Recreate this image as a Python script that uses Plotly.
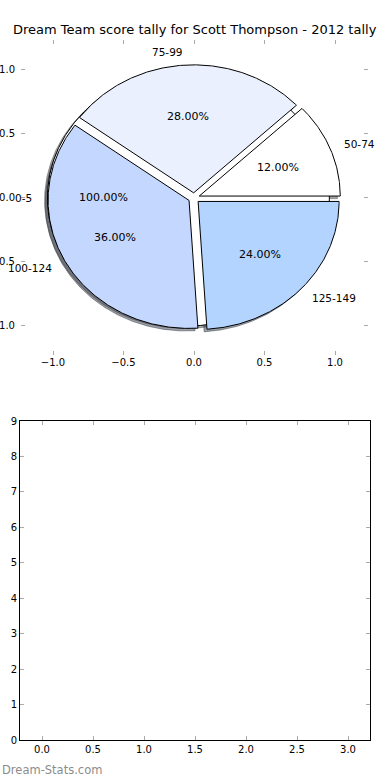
import numpy as np
import plotly.graph_objects as go

# ---------------- data ----------------
title_text = "Dream Team score tally for Scott Thompson - 2012 tally"
first_labels = ["0-5"]
first_counts = [1]
labels = ["50-74", "75-99", "100-124", "125-149"]
counts = [3, 7, 9, 6]
colors = ["#FFFFFF", "#EAF0FE", "#C4D7FE", "#B3D4FE"]
pie_ticks = [-1.0, -0.5, 0.0, 0.5, 1.0]
bar_xticks = [0.0, 0.5, 1.0, 1.5, 2.0, 2.5, 3.0]
bar_yticks = [0, 1, 2, 3, 4, 5, 6, 7, 8, 9]
watermark = "Dream-Stats.com"

# ---------------- style ----------------
FONT = "DejaVu Sans"
EXPLODE = 0.04
SHADOW = (-0.02, -0.02)
W, H = 390, 780


def wedges(vals):
    v = np.asarray(vals, dtype=float)
    s = v.sum()
    if s > 1:
        v = v / s
    out = []
    t1 = 0.0
    for f in v:
        t2 = t1 + 360.0 * f
        mid = np.deg2rad((t1 + t2) / 2)
        cx, cy = EXPLODE * np.cos(mid), EXPLODE * np.sin(mid)
        th = np.deg2rad(np.linspace(t1, t2, max(int(abs(t2 - t1)) * 2, 4)))
        xs = cx + np.cos(th)
        ys = cy + np.sin(th)
        if abs((t2 - t1) - 360) > 1e-9:
            xs = np.concatenate([[cx], xs, [cx]])
            ys = np.concatenate([[cy], ys, [cy]])
        else:
            xs = np.concatenate([xs, xs[:1]])
            ys = np.concatenate([ys, ys[:1]])
        out.append(dict(xs=xs, ys=ys, cx=cx, cy=cy, mid=mid, frac=f))
        t1 = t2
    return out


pies = [(first_labels, wedges(first_counts)), (labels, wedges(counts))]

fig = go.Figure()


def shade(hexc):
    h = hexc.lstrip("#")
    r, g, b = (int(h[i:i + 2], 16) for i in (0, 2, 4))
    return f"rgba({int(r*0.3)},{int(g*0.3)},{int(b*0.3)},0.5)"


# shadows below everything
for labs, ws in pies:
    for i, w in enumerate(ws):
        c = shade(colors[i % len(colors)])
        fig.add_trace(go.Scatter(x=w["xs"] + SHADOW[0], y=w["ys"] + SHADOW[1],
                                 mode="lines", fill="toself", fillcolor=c,
                                 line=dict(color=c, width=1),
                                 hoverinfo="skip", showlegend=False,
                                 xaxis="x", yaxis="y"))

annotations = []
for labs, ws in pies:
    for i, w in enumerate(ws):
        fig.add_trace(go.Scatter(x=w["xs"], y=w["ys"], mode="lines", fill="toself",
                                 fillcolor=colors[i % len(colors)],
                                 line=dict(color="black", width=1),
                                 hoverinfo="skip", showlegend=False,
                                 xaxis="x", yaxis="y"))
        lx = w["cx"] + 1.1 * np.cos(w["mid"])
        ly = w["cy"] + 1.1 * np.sin(w["mid"])
        annotations.append(dict(x=lx, y=ly, xref="x", yref="y", text=labs[i],
                                showarrow=False, xanchor="left" if lx > 0 else "right",
                                borderpad=0,
                                yanchor="middle", font=dict(family=FONT, size=10.5, color="black")))
        px_ = w["cx"] + 0.6 * np.cos(w["mid"])
        py_ = w["cy"] + 0.6 * np.sin(w["mid"])
        annotations.append(dict(x=px_, y=py_, xref="x", yref="y",
                                text=f"{w['frac']*100:.2f}%", showarrow=False,
                                xanchor="center", yanchor="middle",
                                font=dict(family=FONT, size=11, color="black")))

# empty lower axes
fig.add_trace(go.Scatter(x=[], y=[], xaxis="x2", yaxis="y2", showlegend=False))

annotations.append(dict(x=195 / W, y=1 - 30 / H, xref="paper", yref="paper", text=title_text,
                        showarrow=False, xanchor="center", yanchor="middle",
                        font=dict(family=FONT, size=13, color="black")))
annotations.append(dict(x=0, y=1 - 770 / H, xref="paper", yref="paper", text=watermark,
                        showarrow=False, xanchor="left", yanchor="middle",
                        font=dict(family=FONT, size=11.5, color="#8c8c8c")))

tickfont = dict(family=FONT, size=10, color="black")
pie_ax = dict(range=[-1.227, 1.234], tickvals=pie_ticks, tickformat=".1f",
              ticks="inside", ticklen=4, tickcolor="#aaaaaa", tickwidth=1,
              showline=False, mirror="ticks", showgrid=False, zeroline=False,
              tickfont=tickfont, fixedrange=True, automargin=False)

fig.update_layout(
    width=W, height=H, margin=dict(l=0, r=0, t=0, b=0, autoexpand=False),
    paper_bgcolor="white", plot_bgcolor="white",
    xaxis=dict(pie_ax, domain=[21 / W, 368 / W], anchor="y"),
    yaxis=dict(pie_ax, domain=[1 - 355 / H, 1 - 40 / H], anchor="x", ticklabelstandoff=5),
    xaxis2=dict(range=[-0.2157, 3.2157], tickvals=bar_xticks, tickformat=".1f",
                domain=[20 / W, 370 / W], anchor="y2", automargin=False,
                ticks="inside", ticklen=4, tickcolor="#aaaaaa", showline=True,
                linecolor="black", linewidth=1, mirror="ticks", showgrid=False,
                zeroline=False, tickfont=tickfont),
    yaxis2=dict(range=[0, 9], tickvals=bar_yticks, domain=[1 - 740 / H, 1 - 421 / H],
                anchor="x2", ticks="inside", ticklen=4, tickcolor="#aaaaaa", automargin=False,
                showline=True, linecolor="black", linewidth=1, mirror="ticks",
                showgrid=False, zeroline=False, tickfont=tickfont),
    annotations=annotations,
    showlegend=False,
)

fig.write_html("out.html", config={"displayModeBar": False},
               post_script="document.body.style.margin='0';")
